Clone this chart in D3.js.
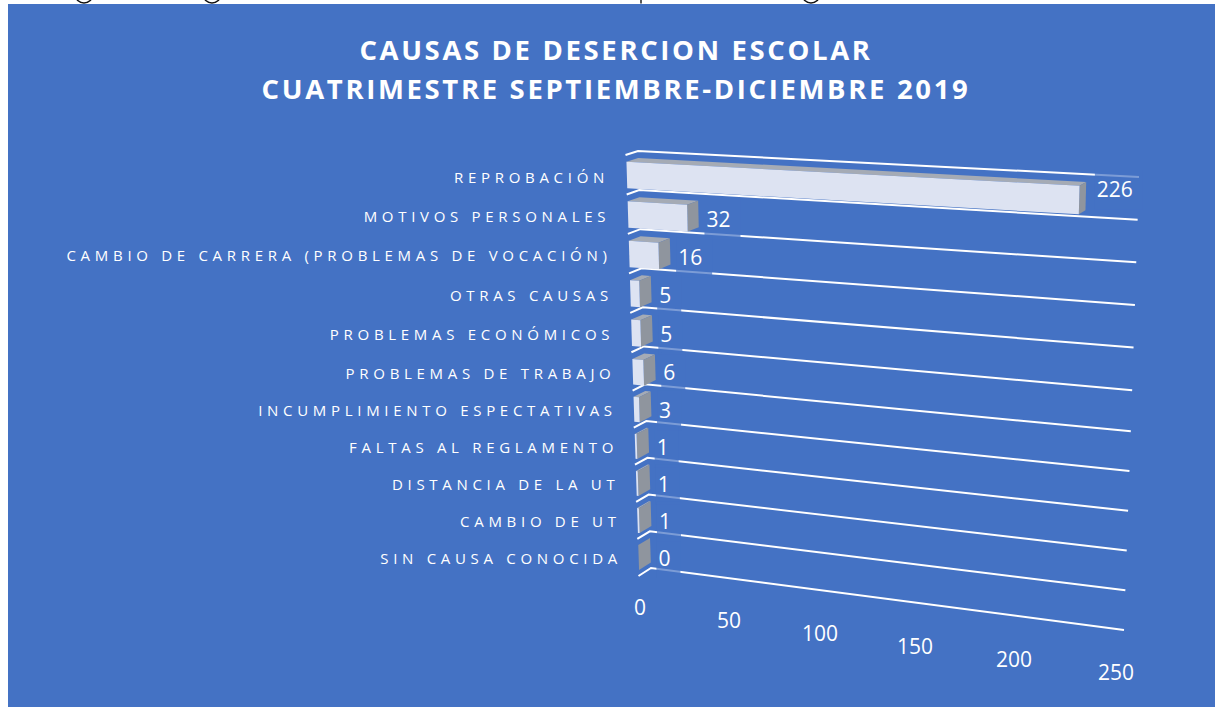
<!DOCTYPE html>
<html><head><meta charset="utf-8">
<script src="https://cdn.jsdelivr.net/npm/d3@7"></script>
<style>html,body{margin:0;padding:0;background:#fff;overflow:hidden}svg{display:block}</style>
</head><body><svg id="c" width="1215" height="707"></svg>
<script>
const titleLines = ["CAUSAS DE DESERCION ESCOLAR", "CUATRIMESTRE SEPTIEMBRE-DICIEMBRE 2019"];
const categories = ["REPROBACIÓN","MOTIVOS PERSONALES","CAMBIO DE CARRERA (PROBLEMAS DE VOCACIÓN)","OTRAS CAUSAS","PROBLEMAS ECONÓMICOS","PROBLEMAS DE TRABAJO","INCUMPLIMIENTO ESPECTATIVAS","FALTAS AL REGLAMENTO","DISTANCIA DE LA UT","CAMBIO DE UT","SIN CAUSA CONOCIDA"];
const values = [226,32,16,5,5,6,3,1,1,1,0];
const valueTicks = [0,50,100,150,200,250];

const svg = d3.select("#c");
const font = "'Open Sans', sans-serif";

// cropped descenders of the page text above the chart
svg.append("g").attr("fill","none").attr("stroke","#111").attr("stroke-width",1.6)
  .selectAll("path").data([84,212,811]).join("path")
  .attr("d",d=>`M${d-7},0 Q${d},6 ${d+7},0`);
svg.append("path").attr("stroke","#111").attr("stroke-width",1.4).attr("d","M641,0V3.5");

svg.append("rect").attr("x",8).attr("y",4).attr("width",1207).attr("height",703).attr("fill","#4472c4");

// projection of the tilted 3D plot: u = category boundary, v = value, d = depth
const n = categories.length;
const backX  = d3.scaleLinear().domain([0,n]).range([638,651]);
const backY  = d3.scaleLinear().domain([0,n/2,n]).range([151,366,568]);
const rightX = d3.scaleLinear().domain([0,n]).range([1139,1124]);
const rightY = d3.scaleLinear().domain([0,n/2,n]).range([177,411.5,630]);
const along  = d3.scaleLinear().domain([0,32,226,250]).range([0,0.118,0.895,1]);
const depthX = d3.scaleLinear().domain([0,250]).range([12.5,6.5]);
const depthY = d3.scaleLinear().domain([0,n]).range([4,8]);
function P(u,v,d){
  const t = along(v);
  const x = backX(u)+(rightX(u)-backX(u))*t;
  const y = backY(u)+(rightY(u)-backY(u))*t;
  return [x-(1-d)*depthX(v), y+(1-d)*depthY(u)];
}
const line = d3.line();

const labelY = d3.scaleLinear().domain([1.5,6,10.5]).range([218,392,558]);
const labelPos = (v,i)=>[P(i+0.5,v,1)[0]+8+(v>100?3:0), labelY(i+0.5)+v*0.045];

// gridlines
const grid = svg.append("g");
d3.range(n+1).forEach(u=>{
  grid.append("path").attr("fill","none").attr("stroke","#fff").attr("stroke-width",2)
    .attr("d",line([P(u,0,0),P(u,0,1),P(u,250,1)]));
});

// bars
const uTop=0.18,uBot=0.85,d0=0.06;
const bars = svg.append("g");
values.forEach((v,i)=>{
  const a=i+uTop,b=i+uBot;
  const g=bars.append("g");
  g.append("path").attr("fill","#a5abb5").attr("d",line([P(a,0,d0),P(a,0,1),P(a,v,1),P(a,v,d0)])+"Z");
  g.append("path").attr("fill","#8f959e").attr("d",line([P(a,v,d0),P(a,v,1),P(b,v,1),P(b,v,d0)])+"Z");
  g.append("path").attr("fill","#dde3f2").attr("d",line([P(a,0,d0),P(a,v,d0),P(b,v,d0),P(b,0,d0)])+"Z");
});

// category labels
const labelRight = d3.scaleLinear().domain([0,n-1]).range([609,622]);
const catY = d3.scaleLinear().domain([0,5,10]).range([183,379,564]);
svg.append("g").selectAll("text").data(categories).join("text")
  .attr("x",(d,i)=>labelRight(i)).attr("y",(d,i)=>catY(i))
  .attr("text-anchor","end").attr("fill","#fff")
  .style("font",`15px ${font}`).style("letter-spacing","4.7px").text(d=>d);

// value labels with translucent plates that veil the gridlines
const vl = svg.append("g");
values.forEach((v,i)=>{
  const [x,y]=labelPos(v,i);
  const t=vl.append("text").attr("x",x).attr("y",y+7.5).attr("fill","#fff")
    .style("font",`21px ${font}`).text(v);
  const w=t.node().getComputedTextLength();
  vl.insert("rect","text").attr("x",x-2).attr("y",y-20).attr("width",w+12).attr("height",40)
    .attr("fill","#4472c4").attr("opacity",0.7);
});

// value axis tick labels
const tickX = d3.scaleLinear().domain(valueTicks).range([640,729,820,915,1014,1116]);
const tickY = d3.scaleLinear().domain([0,250]).range([607,672]);
svg.append("g").selectAll("text").data(valueTicks).join("text")
  .attr("x",d=>tickX(d)).attr("y",d=>tickY(d)+7.5).attr("text-anchor","middle").attr("fill","#fff")
  .style("font",`21px ${font}`).text(d=>d);

// title
svg.append("g").selectAll("text").data(titleLines).join("text")
  .attr("x",616).attr("y",(d,i)=>60+i*39).attr("text-anchor","middle").attr("fill","#fff")
  .style("font",`bold 27.5px ${font}`).style("letter-spacing","2.65px").text(d=>d);
</script></body></html>
